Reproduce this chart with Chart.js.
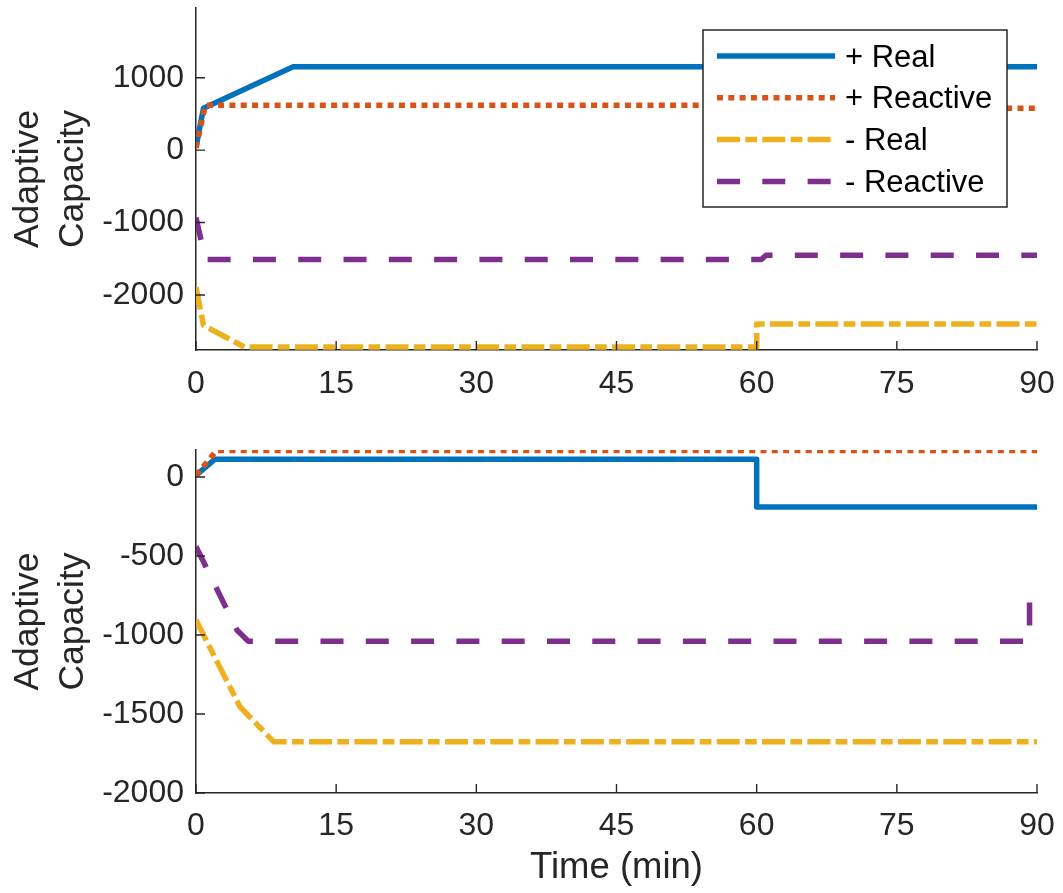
<!DOCTYPE html>
<html>
<head>
<meta charset="utf-8">
<title>Adaptive Capacity</title>
<script src="https://cdn.jsdelivr.net/npm/chart.js@4.4.0/dist/chart.umd.min.js"></script>
<style>
  html, body { margin: 0; padding: 0; background: #fff; }
  canvas { display: block; }
</style>
</head>
<body>
<canvas id="graficoTopo" width="1063" height="420"></canvas>
<canvas id="graficoBaixo" width="1063" height="473"></canvas>
<script>
//-----------------------------------------------------------------------------------------------
// DADOS
const nomesSeries = ['+ Real', '+ Reactive', '- Real', '- Reactive'];
const ticksTempo = [0, 15, 30, 45, 60, 75, 90];

// Painel de cima
const topoRealPosT = [0, 0.8, 10.4, 90];
const topoRealPosV = [40, 580, 1150, 1150];
const topoReatPosT = [0, 1.0, 60, 60, 90];
const topoReatPosV = [30, 620, 620, 580, 580];
const topoRealNegT = [0, 0.8, 5.2, 60, 60, 90];
const topoRealNegV = [-1890, -2420, -2720, -2720, -2400, -2400];
const topoReatNegT = [0, 1.0, 60.5, 61, 90];
const topoReatNegV = [-930, -1510, -1510, -1450, -1450];
const topoTicksY = [-2000, -1000, 0, 1000];

// Painel de baixo
const baixoRealPosT = [0, 2.0, 60, 60, 90];
const baixoRealPosV = [10, 112, 112, -190, -190];
const baixoReatPosT = [0, 2.2, 90];
const baixoReatPosV = [10, 168, 168];
const baixoRealNegT = [0, 4.7, 8.3, 90];
const baixoRealNegV = [-905, -1454, -1675, -1675];
const baixoReatNegT = [0, 4.4, 5.6, 89.2, 89.2, 90];
const baixoReatNegV = [-440, -970, -1040, -1040, -790, -790];
const baixoTicksY = [-2000, -1500, -1000, -500, 0];

//-----------------------------------------------------------------------------------------------
// Estilo (cores padrão do MATLAB)
const cores = ['#0072BD', '#D95319', '#EDB120', '#7E2F8E'];
const tracos = [[], [6, 5.3], [23, 5.3, 11.7, 5.3], [23, 22.3]];
const corTexto = '#262626';
const fonte = '"Liberation Sans", Arial, Helvetica, sans-serif';

Chart.defaults.font.family = fonte;
Chart.defaults.color = corTexto;

// junta tempo e valor em pontos {x, y}
function montarPontos(t, v) {
    return t.map((x, i) => ({ x: x, y: v[i] }));
}

function criarDatasets(listaT, listaV) {
    const datasets = [];
    for (let i = 0; i < nomesSeries.length; i++) {
        datasets.push({
            label: nomesSeries[i],
            data: montarPontos(listaT[i], listaV[i]),
            borderColor: cores[i],
            borderWidth: 5.5,
            borderDash: tracos[i],
            borderCapStyle: 'butt',
            borderJoinStyle: 'round',
            pointRadius: 0,
            tension: 0,
            fill: false,
            // a última série fica por cima (como no MATLAB)
            order: nomesSeries.length - 1 - i
        });
    }
    return datasets;
}

//-----------------------------------------------------------------------------------------------
// Ticks para dentro (estilo MATLAB)
const ticksParaDentro = {
    id: 'ticksParaDentro',
    afterDatasetsDraw(chart) {
        const ctx = chart.ctx;
        const sx = chart.scales.x;
        const sy = chart.scales.y;
        ctx.save();
        ctx.strokeStyle = corTexto;
        ctx.lineWidth = 1.4;
        ctx.beginPath();
        sx.ticks.forEach(t => {
            const px = sx.getPixelForValue(t.value);
            ctx.moveTo(px, sx.top);
            ctx.lineTo(px, sx.top - 9);
        });
        sy.ticks.forEach(t => {
            const py = sy.getPixelForValue(t.value);
            ctx.moveTo(sy.right, py);
            ctx.lineTo(sy.right + 9, py);
        });
        ctx.stroke();
        ctx.restore();
    }
};

// Legenda em caixa no canto (só no gráfico de cima)
const legendaCaixa = {
    id: 'legendaCaixa',
    afterDraw(chart) {
        const ctx = chart.ctx;
        ctx.save();
        ctx.fillStyle = '#ffffff';
        ctx.fillRect(703, 30, 304, 177);
        ctx.strokeStyle = corTexto;
        ctx.lineWidth = 1.5;
        ctx.strokeRect(703, 30, 304, 177);
        ctx.font = '31px ' + fonte;
        ctx.textBaseline = 'middle';
        ctx.textAlign = 'left';
        chart.data.datasets.forEach((ds, i) => {
            const yl = 56 + i * 41.8;
            ctx.strokeStyle = ds.borderColor;
            ctx.lineWidth = ds.borderWidth;
            ctx.lineCap = 'butt';
            ctx.setLineDash(ds.borderDash);
            ctx.beginPath();
            ctx.moveTo(717, yl);
            ctx.lineTo(835, yl);
            ctx.stroke();
            ctx.setLineDash([]);
            ctx.fillStyle = '#000000';
            ctx.fillText(ds.label, 845, yl + 2);
        });
        ctx.restore();
    }
};

//-----------------------------------------------------------------------------------------------
function opcoes(ticksY, minY, maxY, alturaX, padX, tituloX) {
    return {
        responsive: false,
        animation: false,
        layout: { padding: { top: 0, right: 26, left: 0, bottom: 0 } },
        plugins: { legend: { display: false }, tooltip: { enabled: false } },
        scales: {
            x: {
                type: 'linear',
                min: 0,
                max: 90,
                afterBuildTicks: s => { s.ticks = ticksTempo.map(v => ({ value: v })); },
                afterFit: s => { s.height = alturaX; s.paddingLeft = 0; s.paddingRight = 0; },
                grid: { display: false, drawTicks: false },
                border: { display: true, color: corTexto, width: 1.5 },
                ticks: {
                    color: corTexto,
                    font: { size: 32 },
                    padding: padX,
                    maxRotation: 0,
                    autoSkip: false,
                    callback: v => String(v)
                },
                title: {
                    display: tituloX !== '',
                    text: tituloX,
                    color: corTexto,
                    font: { size: 36.5, lineHeight: 1.25 },
                    padding: { top: 0, bottom: 2 }
                }
            },
            y: {
                type: 'linear',
                min: minY,
                max: maxY,
                afterBuildTicks: s => { s.ticks = ticksY.map(v => ({ value: v })); },
                // largura fixa e sem folga extra em cima/baixo
                afterFit: s => { s.width = 196; s.paddingTop = 0; s.paddingBottom = 0; },
                grid: { display: false, drawTicks: false },
                border: { display: true, color: corTexto, width: 1.5 },
                ticks: {
                    color: corTexto,
                    font: { size: 32 },
                    padding: 12,
                    autoSkip: false,
                    callback: v => String(v)
                },
                title: {
                    display: true,
                    text: ['Adaptive', 'Capacity'],
                    color: corTexto,
                    font: { size: 35.5, lineHeight: 1.28 },
                    padding: { top: 5, bottom: 0 }
                }
            }
        }
    };
}

// Gráfico de cima
const optTopo = opcoes(topoTicksY, -2760, 1963, 70, 15, '');
optTopo.layout.padding.top = 8;
new Chart(document.getElementById('graficoTopo').getContext('2d'), {
    type: 'line',
    data: {
        datasets: criarDatasets(
            [topoRealPosT, topoReatPosT, topoRealNegT, topoReatNegT],
            [topoRealPosV, topoReatPosV, topoRealNegV, topoReatNegV]
        )
    },
    options: optTopo,
    plugins: [ticksParaDentro, legendaCaixa]
});

// Gráfico de baixo
const optBaixo = opcoes(baixoTicksY, -2000, 171, 100, 14, 'Time (min)');
optBaixo.layout.padding.top = 30;
new Chart(document.getElementById('graficoBaixo').getContext('2d'), {
    type: 'line',
    data: {
        datasets: criarDatasets(
            [baixoRealPosT, baixoReatPosT, baixoRealNegT, baixoReatNegT],
            [baixoRealPosV, baixoReatPosV, baixoRealNegV, baixoReatNegV]
        )
    },
    options: optBaixo,
    plugins: [ticksParaDentro]
});
</script>
</body>
</html>
